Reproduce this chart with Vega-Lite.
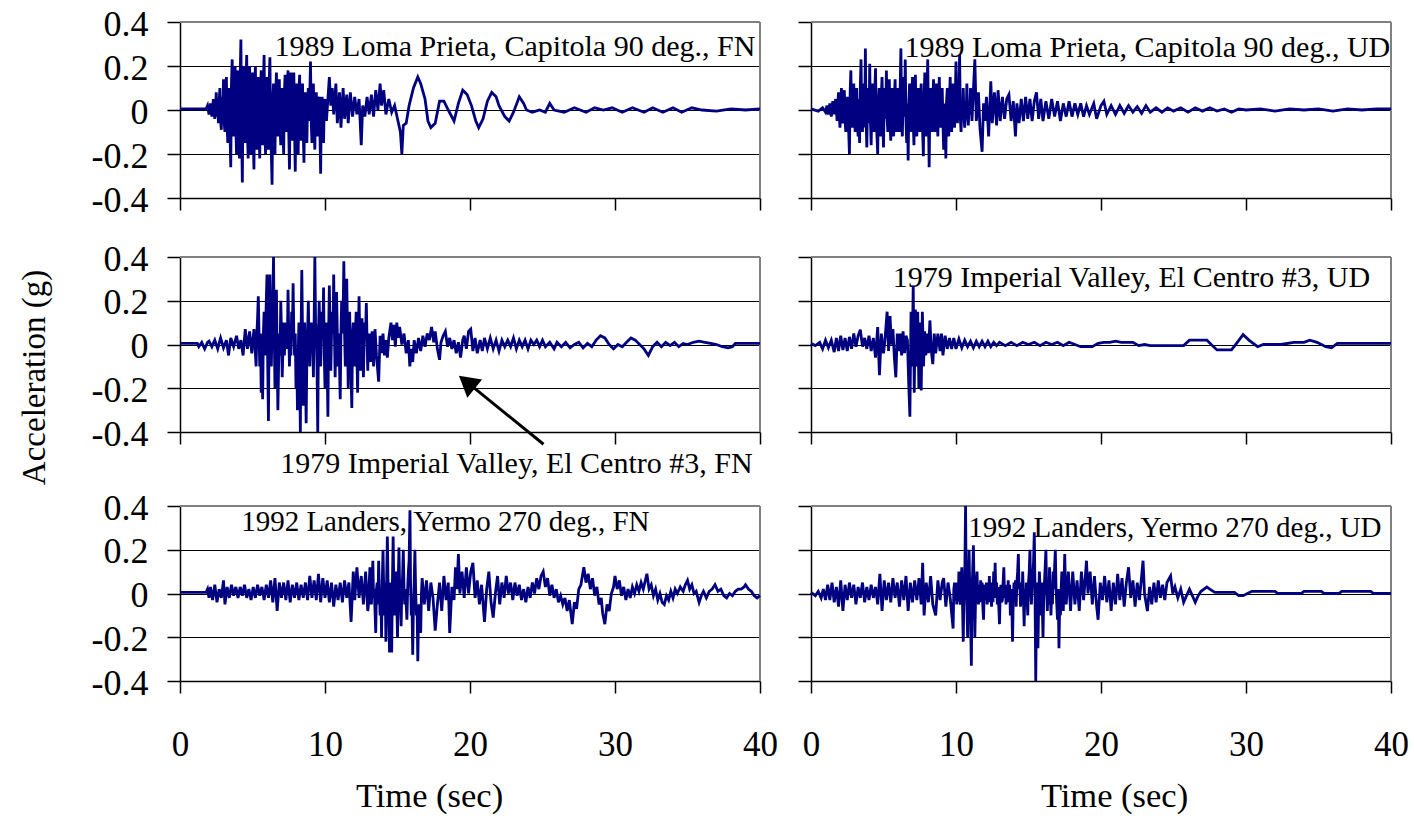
{
"$schema": "https://vega.github.io/schema/vega-lite/v6.json",
"autosize": "none",
"padding": {"left": 180, "top": 22, "right": 1234, "bottom": 796},
"config": {
  "view": {"stroke": null},
  "font": "Liberation Serif",
  "style": {"guide-label": {"font": "Liberation Serif"}, "guide-title": {"font": "Liberation Serif"}},
  "axis": {"labelFont": "Liberation Serif", "titleFont": "Liberation Serif", "domainColor": "black", "tickColor": "black", "labelColor": "black", "titleColor": "black", "domainWidth": 1.5, "tickWidth": 1.5, "titleFontWeight": "normal", "labelOverlap": false, "labelFlush": false, "gridColor": "black", "gridWidth": 1}
},
"datasets": {
"lpfn": [{"t":0,"a":0.005},{"t":1.8,"a":0.005},{"t":1.9,"a":0.02},{"t":2.0,"a":-0.02},{"t":2.1,"a":0.03},{"t":2.2,"a":-0.03},{"t":2.3,"a":0.05},{"t":2.4,"a":-0.04},
{"t":2.5,"a":0.08},{"t":2.55,"a":-0.03},{"t":2.6,"a":0.05},{"t":2.65,"a":-0.06},{"t":2.7,"a":0.04},{"t":2.75,"a":0.1},{"t":2.8,"a":-0.05},{"t":2.85,"a":-0.09},{"t":2.9,"a":0.06},{"t":2.95,"a":-0.04},{"t":3.0,"a":0.14},{"t":3.05,"a":-0.06},{"t":3.1,"a":-0.1},{"t":3.15,"a":0.08},{"t":3.2,"a":0.15},{"t":3.25,"a":-0.08},{"t":3.3,"a":-0.15},{"t":3.35,"a":0.05},{"t":3.4,"a":0.1},{"t":3.45,"a":-0.1},{"t":3.5,"a":-0.26},{"t":3.55,"a":0.12},{"t":3.6,"a":0.23},{"t":3.65,"a":-0.05},{"t":3.7,"a":-0.12},{"t":3.75,"a":0.1},{"t":3.8,"a":0.2},{"t":3.85,"a":-0.08},{"t":3.9,"a":-0.2},{"t":3.95,"a":0.1},{"t":4.0,"a":0.18},{"t":4.05,"a":-0.1},{"t":4.1,"a":-0.22},{"t":4.15,"a":0.15},{"t":4.2,"a":0.32},{"t":4.25,"a":-0.1},{"t":4.3,"a":-0.33},{"t":4.35,"a":0.1},{"t":4.4,"a":0.2},{"t":4.45,"a":-0.08},{"t":4.5,"a":-0.15},{"t":4.55,"a":0.12},{"t":4.6,"a":0.25},{"t":4.65,"a":-0.1},{"t":4.7,"a":-0.22},{"t":4.75,"a":0.1},{"t":4.8,"a":0.2},{"t":4.85,"a":-0.1},{"t":4.9,"a":-0.2},{"t":4.95,"a":0.08},{"t":5.0,"a":0.17},{"t":5.05,"a":-0.12},{"t":5.1,"a":-0.27},{"t":5.15,"a":0.1},{"t":5.2,"a":0.2},{"t":5.25,"a":-0.08},{"t":5.3,"a":-0.18},{"t":5.35,"a":0.1},{"t":5.4,"a":0.15},{"t":5.45,"a":-0.1},{"t":5.5,"a":-0.22},{"t":5.55,"a":0.08},{"t":5.6,"a":0.18},{"t":5.65,"a":-0.1},{"t":5.7,"a":-0.16},{"t":5.75,"a":0.12},{"t":5.8,"a":0.25},{"t":5.85,"a":-0.1},{"t":5.9,"a":-0.2},{"t":5.95,"a":0.08},{"t":6.0,"a":0.15},{"t":6.05,"a":-0.08},{"t":6.1,"a":-0.18},{"t":6.15,"a":0.12},{"t":6.2,"a":0.24},{"t":6.25,"a":-0.1},{"t":6.3,"a":-0.2},{"t":6.35,"a":-0.34},{"t":6.4,"a":0.05},{"t":6.45,"a":0.12},{"t":6.5,"a":-0.08},{"t":6.55,"a":-0.2},{"t":6.6,"a":0.06},{"t":6.65,"a":0.17},{"t":6.7,"a":-0.06},{"t":6.75,"a":-0.12},{"t":6.8,"a":0.06},{"t":6.85,"a":0.14},{"t":6.9,"a":-0.08},{"t":6.95,"a":-0.16},{"t":7.0,"a":0.05},{"t":7.05,"a":0.1},{"t":7.1,"a":-0.1},{"t":7.15,"a":-0.2},{"t":7.2,"a":0.08},{"t":7.25,"a":0.16},{"t":7.3,"a":-0.05},{"t":7.35,"a":-0.1},{"t":7.4,"a":0.1},{"t":7.45,"a":0.18},{"t":7.5,"a":-0.1},{"t":7.55,"a":-0.27},{"t":7.6,"a":0.08},{"t":7.65,"a":0.17},{"t":7.7,"a":-0.06},{"t":7.75,"a":-0.14},{"t":7.8,"a":0.08},{"t":7.85,"a":0.17},{"t":7.9,"a":-0.1},{"t":7.95,"a":-0.28},{"t":8.0,"a":0.05},{"t":8.05,"a":0.12},{"t":8.1,"a":-0.08},{"t":8.15,"a":-0.2},{"t":8.2,"a":0.08},{"t":8.25,"a":0.16},{"t":8.3,"a":-0.06},{"t":8.35,"a":-0.14},{"t":8.4,"a":0.05},{"t":8.45,"a":0.12},{"t":8.5,"a":-0.1},{"t":8.55,"a":-0.24},{"t":8.6,"a":0.03},{"t":8.65,"a":0.08},{"t":8.7,"a":-0.06},{"t":8.75,"a":-0.15},{"t":8.8,"a":0.04},{"t":8.85,"a":0.1},{"t":8.9,"a":-0.05},{"t":8.95,"a":0.06},{"t":9.0,"a":0.22},{"t":9.05,"a":-0.05},{"t":9.1,"a":-0.15},{"t":9.15,"a":0.05},{"t":9.2,"a":0.12},{"t":9.25,"a":-0.08},{"t":9.3,"a":-0.18},{"t":9.35,"a":0.03},{"t":9.4,"a":0.08},{"t":9.45,"a":-0.05},{"t":9.5,"a":-0.12},{"t":9.55,"a":0.04},{"t":9.6,"a":0.06},{"t":9.65,"a":-0.1},{"t":9.7,"a":-0.29},{"t":9.75,"a":0.02},{"t":9.8,"a":0.06},{"t":9.85,"a":-0.05},{"t":9.9,"a":-0.15},{"t":9.95,"a":0.02},{"t":10.0,"a":0.05},
{"t":10.1,"a":-0.05},{"t":10.3,"a":0.15},{"t":10.4,"a":0.02},{"t":10.5,"a":0.1},{"t":10.6,"a":-0.02},{"t":10.75,"a":0.12},{"t":10.85,"a":-0.06},{"t":11.0,"a":0.08},{"t":11.1,"a":-0.08},{"t":11.25,"a":0.1},{"t":11.35,"a":-0.04},{"t":11.5,"a":0.07},{"t":11.6,"a":-0.06},{"t":11.75,"a":0.08},{"t":11.9,"a":-0.03},{"t":12.05,"a":0.06},{"t":12.2,"a":-0.02},{"t":12.35,"a":0.05},{"t":12.5,"a":-0.16},{"t":12.6,"a":0.02},{"t":12.75,"a":-0.03},{"t":12.9,"a":0.06},{"t":13.05,"a":-0.02},{"t":13.2,"a":0.07},{"t":13.35,"a":-0.03},{"t":13.5,"a":0.09},{"t":13.65,"a":0.0},{"t":13.8,"a":0.12},{"t":13.9,"a":0.02},{"t":14.05,"a":0.09},{"t":14.2,"a":-0.02},{"t":14.4,"a":0.05},{"t":14.6,"a":-0.01},{"t":14.8,"a":0.02},{"t":15.0,"a":-0.04},{"t":15.2,"a":-0.1},{"t":15.3,"a":-0.2},{"t":15.4,"a":-0.07},{"t":15.6,"a":-0.06},{"t":15.8,"a":0.02},{"t":16.1,"a":0.1},{"t":16.4,"a":0.15},{"t":16.6,"a":0.12},{"t":16.9,"a":0.05},{"t":17.1,"a":-0.05},{"t":17.3,"a":-0.08},{"t":17.6,"a":-0.06},{"t":17.9,"a":0.04},{"t":18.2,"a":0.04},{"t":18.5,"a":0.0},{"t":18.9,"a":-0.05},{"t":19.2,"a":0.03},{"t":19.5,"a":0.09},{"t":19.8,"a":0.07},{"t":20.1,"a":0.02},{"t":20.4,"a":-0.05},{"t":20.6,"a":-0.08},{"t":20.9,"a":-0.04},{"t":21.2,"a":0.04},{"t":21.5,"a":0.08},{"t":21.8,"a":0.06},{"t":22.0,"a":0.02},{"t":22.4,"a":-0.03},{"t":22.7,"a":-0.05},{"t":23.0,"a":-0.01},{"t":23.4,"a":0.06},{"t":23.7,"a":0.03},{"t":23.9,"a":0.0},{"t":24.3,"a":-0.01},{"t":24.8,"a":0.0},{"t":25.2,"a":-0.01},{"t":25.5,"a":0.03},{"t":25.8,"a":0.0},{"t":26.5,"a":-0.01},{"t":27.2,"a":0.01},{"t":28.0,"a":-0.01},{"t":28.6,"a":0.01},{"t":29.2,"a":0.0},{"t":29.8,"a":0.01},{"t":30.5,"a":-0.01},{"t":31.2,"a":0.01},{"t":32.0,"a":-0.01},{"t":32.6,"a":0.01},{"t":33.3,"a":-0.01},{"t":34.0,"a":0.01},{"t":34.6,"a":-0.01},{"t":35.3,"a":0.01},{"t":36.0,"a":0.0},{"t":37.0,"a":-0.005},{"t":38.0,"a":0.005},{"t":39.0,"a":0.0},{"t":40,"a":0.005}],
"lpud": [{"t":0,"a":0.005},{"t":0.5,"a":-0.005},{"t":0.8,"a":0.01},{"t":1.0,"a":-0.01},{"t":1.1,"a":0.02},{"t":1.2,"a":-0.02},{"t":1.3,"a":0.03},{"t":1.4,"a":-0.03},{"t":1.5,"a":0.04},{"t":1.6,"a":-0.02},{"t":1.7,"a":0.05},
{"t":1.8,"a":-0.05},{"t":1.85,"a":0.03},{"t":1.9,"a":0.08},{"t":1.95,"a":-0.03},{"t":2.0,"a":-0.08},{"t":2.05,"a":0.04},{"t":2.1,"a":0.1},{"t":2.15,"a":-0.04},{"t":2.2,"a":-0.06},{"t":2.25,"a":0.05},{"t":2.3,"a":0.09},{"t":2.35,"a":-0.05},{"t":2.4,"a":-0.1},{"t":2.45,"a":0.03},{"t":2.5,"a":0.06},{"t":2.55,"a":-0.05},{"t":2.6,"a":-0.1},{"t":2.65,"a":-0.2},{"t":2.7,"a":0.08},{"t":2.75,"a":0.18},{"t":2.8,"a":-0.04},{"t":2.85,"a":-0.08},{"t":2.9,"a":0.05},{"t":2.95,"a":0.12},{"t":3.0,"a":-0.05},{"t":3.05,"a":-0.1},{"t":3.1,"a":0.04},{"t":3.15,"a":0.1},{"t":3.2,"a":-0.06},{"t":3.25,"a":-0.12},{"t":3.3,"a":0.05},{"t":3.35,"a":-0.15},{"t":3.4,"a":0.1},{"t":3.45,"a":0.23},{"t":3.5,"a":-0.05},{"t":3.55,"a":-0.1},{"t":3.6,"a":0.05},{"t":3.65,"a":0.12},{"t":3.7,"a":-0.08},{"t":3.75,"a":0.28},{"t":3.8,"a":-0.05},{"t":3.85,"a":-0.17},{"t":3.9,"a":0.04},{"t":3.95,"a":0.1},{"t":4.0,"a":-0.06},{"t":4.05,"a":0.21},{"t":4.1,"a":-0.05},{"t":4.15,"a":-0.16},{"t":4.2,"a":0.05},{"t":4.25,"a":0.12},{"t":4.3,"a":-0.04},{"t":4.35,"a":-0.1},{"t":4.4,"a":0.08},{"t":4.45,"a":0.19},{"t":4.5,"a":-0.05},{"t":4.55,"a":-0.12},{"t":4.6,"a":-0.2},{"t":4.65,"a":0.04},{"t":4.7,"a":0.1},{"t":4.75,"a":-0.05},{"t":4.8,"a":-0.12},{"t":4.85,"a":0.06},{"t":4.9,"a":0.15},{"t":4.95,"a":-0.06},{"t":5.0,"a":-0.17},{"t":5.05,"a":0.04},{"t":5.1,"a":0.1},{"t":5.15,"a":-0.04},{"t":5.2,"a":0.18},{"t":5.25,"a":-0.04},{"t":5.3,"a":-0.1},{"t":5.35,"a":0.05},{"t":5.4,"a":0.14},{"t":5.45,"a":-0.05},{"t":5.5,"a":-0.14},{"t":5.55,"a":0.04},{"t":5.6,"a":0.1},{"t":5.65,"a":-0.04},{"t":5.7,"a":-0.12},{"t":5.75,"a":0.05},{"t":5.8,"a":0.14},{"t":5.85,"a":-0.04},{"t":5.9,"a":-0.1},{"t":5.95,"a":0.04},{"t":6.0,"a":0.1},{"t":6.05,"a":-0.04},{"t":6.1,"a":-0.1},{"t":6.15,"a":0.1},{"t":6.2,"a":0.28},{"t":6.25,"a":-0.05},{"t":6.3,"a":-0.12},{"t":6.35,"a":0.05},{"t":6.4,"a":0.15},{"t":6.45,"a":-0.03},{"t":6.5,"a":0.23},{"t":6.55,"a":-0.05},{"t":6.6,"a":-0.15},{"t":6.65,"a":0.03},{"t":6.7,"a":-0.23},{"t":6.75,"a":0.04},{"t":6.8,"a":0.12},{"t":6.85,"a":-0.04},{"t":6.9,"a":-0.1},{"t":6.95,"a":0.05},{"t":7.0,"a":0.15},{"t":7.05,"a":-0.05},{"t":7.1,"a":-0.16},{"t":7.15,"a":0.05},{"t":7.2,"a":0.16},{"t":7.25,"a":-0.04},{"t":7.3,"a":-0.12},{"t":7.35,"a":0.04},{"t":7.4,"a":0.1},{"t":7.45,"a":-0.04},{"t":7.5,"a":-0.1},{"t":7.55,"a":0.05},{"t":7.6,"a":0.12},{"t":7.65,"a":-0.05},{"t":7.7,"a":-0.1},{"t":7.75,"a":-0.21},{"t":7.8,"a":0.06},{"t":7.85,"a":0.17},{"t":7.9,"a":-0.04},{"t":7.95,"a":-0.12},{"t":8.0,"a":0.06},{"t":8.05,"a":0.23},{"t":8.1,"a":-0.05},{"t":8.15,"a":-0.26},{"t":8.2,"a":0.04},{"t":8.25,"a":0.1},{"t":8.3,"a":-0.04},{"t":8.35,"a":-0.1},{"t":8.4,"a":0.05},{"t":8.45,"a":0.14},{"t":8.5,"a":-0.04},{"t":8.55,"a":-0.1},{"t":8.6,"a":0.04},{"t":8.65,"a":0.12},{"t":8.7,"a":-0.04},{"t":8.75,"a":-0.12},{"t":8.8,"a":0.05},{"t":8.85,"a":0.15},{"t":8.9,"a":-0.03},{"t":8.95,"a":-0.08},{"t":9.0,"a":0.04},{"t":9.05,"a":0.1},{"t":9.1,"a":-0.06},{"t":9.15,"a":-0.18},{"t":9.2,"a":0.03},{"t":9.25,"a":-0.05},{"t":9.3,"a":-0.22},{"t":9.35,"a":0.04},{"t":9.4,"a":0.1},{"t":9.45,"a":-0.04},{"t":9.5,"a":-0.12},{"t":9.55,"a":0.05},{"t":9.6,"a":0.15},{"t":9.65,"a":-0.04},{"t":9.7,"a":-0.1},{"t":9.75,"a":0.04},{"t":9.8,"a":0.12},{"t":9.85,"a":-0.03},{"t":9.9,"a":-0.08},{"t":9.95,"a":0.06},{"t":10.0,"a":0.22},{"t":10.05,"a":-0.03},{"t":10.1,"a":-0.06},{"t":10.15,"a":0.05},{"t":10.2,"a":0.1},{"t":10.25,"a":0.25},{"t":10.3,"a":-0.04},{"t":10.35,"a":-0.1},{"t":10.4,"a":0.04},{"t":10.45,"a":-0.03},{"t":10.5,"a":0.1},{"t":10.55,"a":-0.03},{"t":10.6,"a":-0.08},{"t":10.65,"a":0.04},{"t":10.7,"a":-0.03},{"t":10.75,"a":0.12},{"t":10.8,"a":-0.03},{"t":10.85,"a":-0.07},{"t":10.9,"a":0.03},{"t":10.95,"a":-0.02},{"t":11.0,"a":0.1},
{"t":11.1,"a":-0.05},{"t":11.3,"a":0.23},{"t":11.4,"a":-0.05},{"t":11.55,"a":0.08},{"t":11.65,"a":-0.08},{"t":11.8,"a":-0.19},{"t":11.9,"a":0.03},{"t":12.0,"a":-0.05},{"t":12.1,"a":0.06},{"t":12.25,"a":-0.12},{"t":12.4,"a":0.13},{"t":12.5,"a":-0.06},{"t":12.65,"a":0.08},{"t":12.8,"a":-0.07},{"t":12.9,"a":0.09},{"t":13.05,"a":-0.05},{"t":13.2,"a":0.06},{"t":13.35,"a":-0.04},{"t":13.5,"a":0.05},{"t":13.65,"a":0.07},{"t":13.8,"a":-0.05},{"t":13.95,"a":0.04},{"t":14.1,"a":-0.12},{"t":14.2,"a":0.03},{"t":14.35,"a":-0.06},{"t":14.5,"a":0.05},{"t":14.65,"a":-0.05},{"t":14.8,"a":0.06},{"t":14.95,"a":-0.04},{"t":15.1,"a":0.05},{"t":15.25,"a":-0.05},{"t":15.4,"a":0.04},{"t":15.55,"a":0.08},{"t":15.7,"a":-0.04},{"t":15.85,"a":0.05},{"t":16.0,"a":-0.05},{"t":16.2,"a":0.04},{"t":16.4,"a":-0.04},{"t":16.6,"a":0.05},{"t":16.8,"a":-0.03},{"t":17.0,"a":0.04},{"t":17.2,"a":-0.05},{"t":17.4,"a":0.03},{"t":17.6,"a":-0.03},{"t":17.8,"a":0.04},{"t":18.0,"a":-0.03},{"t":18.2,"a":0.03},{"t":18.4,"a":-0.02},{"t":18.6,"a":0.03},{"t":18.8,"a":-0.03},{"t":19.0,"a":0.02},{"t":19.2,"a":-0.02},{"t":19.5,"a":0.03},{"t":19.7,"a":-0.04},{"t":20.0,"a":0.02},{"t":20.2,"a":0.04},{"t":20.4,"a":-0.02},{"t":20.7,"a":0.02},{"t":21.0,"a":-0.02},{"t":21.3,"a":0.02},{"t":21.6,"a":-0.015},{"t":21.9,"a":0.02},{"t":22.2,"a":-0.01},{"t":22.5,"a":0.015},{"t":22.8,"a":-0.015},{"t":23.1,"a":0.02},{"t":23.4,"a":-0.01},{"t":23.8,"a":0.01},{"t":24.2,"a":-0.01},{"t":24.6,"a":0.01},{"t":25.0,"a":-0.005},{"t":25.5,"a":0.01},{"t":26.0,"a":-0.01},{"t":26.5,"a":0.01},{"t":27.0,"a":-0.005},{"t":27.5,"a":0.01},{"t":28.0,"a":-0.005},{"t":28.5,"a":0.005},{"t":29.0,"a":-0.01},{"t":29.5,"a":0.005},{"t":30.0,"a":0.0},{"t":31.0,"a":0.005},{"t":32.0,"a":-0.005},{"t":33.0,"a":0.005},{"t":34.0,"a":0.0},{"t":35.0,"a":0.005},{"t":36.0,"a":-0.005},{"t":37.0,"a":0.005},{"t":38.0,"a":0.0},{"t":39.0,"a":0.005},{"t":40.0,"a":0.005}],
"ivfn": [{"t":0,"a":0.005},{"t":1.2,"a":0.005},{"t":1.3,"a":-0.01},{"t":1.5,"a":0.01},{"t":1.7,"a":-0.02},{"t":1.9,"a":0.01},{"t":2.0,"a":0.015},{"t":2.2,"a":-0.01},{"t":2.4,"a":0.02},{"t":2.6,"a":-0.02},{"t":2.8,"a":0.03},{"t":3.0,"a":-0.015},{"t":3.2,"a":0.02},{"t":3.35,"a":-0.05},{"t":3.5,"a":0.03},{"t":3.7,"a":-0.01},{"t":3.9,"a":0.04},{"t":4.05,"a":-0.02},{"t":4.2,"a":0.02},{"t":4.35,"a":-0.05},{"t":4.5,"a":0.07},{"t":4.65,"a":-0.02},{"t":4.8,"a":0.06},{"t":4.95,"a":-0.04},{"t":5.1,"a":0.07},
{"t":5.25,"a":-0.1},{"t":5.3,"a":0.05},{"t":5.35,"a":0.12},{"t":5.4,"a":0.22},{"t":5.45,"a":0.05},{"t":5.5,"a":-0.1},{"t":5.55,"a":0.05},{"t":5.6,"a":-0.22},{"t":5.65,"a":-0.05},{"t":5.7,"a":-0.25},{"t":5.75,"a":0.05},{"t":5.8,"a":0.15},{"t":5.85,"a":-0.05},{"t":5.9,"a":0.05},{"t":5.95,"a":0.2},{"t":6.0,"a":0.32},{"t":6.05,"a":-0.1},{"t":6.1,"a":-0.35},{"t":6.15,"a":0.1},{"t":6.2,"a":0.32},{"t":6.25,"a":0.05},{"t":6.3,"a":-0.1},{"t":6.35,"a":0.1},{"t":6.4,"a":0.2},{"t":6.45,"a":0.4},{"t":6.5,"a":0.05},{"t":6.55,"a":-0.2},{"t":6.6,"a":0.05},{"t":6.65,"a":0.25},{"t":6.7,"a":-0.05},{"t":6.75,"a":-0.3},{"t":6.8,"a":-0.1},{"t":6.85,"a":0.05},{"t":6.9,"a":-0.05},{"t":6.95,"a":0.2},{"t":7.0,"a":0.05},{"t":7.05,"a":-0.15},{"t":7.1,"a":-0.02},{"t":7.15,"a":0.1},{"t":7.2,"a":-0.05},{"t":7.25,"a":0.05},{"t":7.3,"a":0.02},{"t":7.35,"a":0.1},{"t":7.4,"a":-0.02},{"t":7.45,"a":0.25},{"t":7.5,"a":0.05},{"t":7.55,"a":-0.1},{"t":7.6,"a":0.05},{"t":7.65,"a":-0.05},{"t":7.7,"a":0.15},{"t":7.75,"a":0.05},{"t":7.8,"a":0.28},{"t":7.85,"a":0.05},{"t":7.9,"a":-0.05},{"t":7.95,"a":0.05},{"t":8.0,"a":-0.2},{"t":8.05,"a":-0.05},{"t":8.1,"a":-0.3},{"t":8.15,"a":-0.05},{"t":8.2,"a":0.1},{"t":8.25,"a":-0.1},{"t":8.3,"a":-0.4},{"t":8.35,"a":0.05},{"t":8.4,"a":0.34},{"t":8.45,"a":0.05},{"t":8.5,"a":-0.28},{"t":8.55,"a":-0.05},{"t":8.6,"a":0.1},{"t":8.65,"a":-0.1},{"t":8.7,"a":-0.36},{"t":8.75,"a":-0.05},{"t":8.8,"a":0.05},{"t":8.85,"a":0.2},{"t":8.9,"a":0.02},{"t":8.95,"a":-0.1},{"t":9.0,"a":0.02},{"t":9.05,"a":0.1},{"t":9.1,"a":-0.03},{"t":9.15,"a":0.05},{"t":9.2,"a":-0.15},{"t":9.25,"a":0.1},{"t":9.3,"a":0.4},{"t":9.35,"a":0.1},{"t":9.4,"a":0.05},{"t":9.45,"a":-0.1},{"t":9.5,"a":-0.4},{"t":9.55,"a":0.05},{"t":9.6,"a":0.2},{"t":9.65,"a":0.05},{"t":9.7,"a":-0.1},{"t":9.75,"a":0.05},{"t":9.8,"a":0.15},{"t":9.85,"a":0.05},{"t":9.9,"a":0.26},{"t":9.95,"a":-0.05},{"t":10.0,"a":-0.2},{"t":10.05,"a":0.05},{"t":10.1,"a":0.1},{"t":10.15,"a":-0.1},{"t":10.2,"a":-0.33},{"t":10.25,"a":0.05},{"t":10.3,"a":0.27},{"t":10.35,"a":0.05},{"t":10.4,"a":-0.12},{"t":10.45,"a":0.05},{"t":10.5,"a":0.15},{"t":10.55,"a":0.05},{"t":10.6,"a":0.32},{"t":10.65,"a":0.05},{"t":10.7,"a":-0.15},{"t":10.75,"a":0.05},{"t":10.8,"a":0.24},{"t":10.85,"a":0.05},{"t":10.9,"a":-0.1},{"t":10.95,"a":0.05},{"t":11.0,"a":-0.1},{"t":11.05,"a":-0.25},{"t":11.1,"a":0.05},{"t":11.15,"a":0.2},{"t":11.2,"a":0.05},{"t":11.25,"a":0.15},{"t":11.3,"a":0.38},{"t":11.35,"a":0.05},{"t":11.4,"a":-0.1},{"t":11.45,"a":0.1},{"t":11.5,"a":0.3},{"t":11.55,"a":0.05},{"t":11.6,"a":-0.2},{"t":11.65,"a":0.05},{"t":11.7,"a":0.15},{"t":11.75,"a":-0.05},{"t":11.8,"a":-0.15},{"t":11.85,"a":-0.29},{"t":11.9,"a":0.05},{"t":11.95,"a":0.1},{"t":12.0,"a":-0.05},{"t":12.05,"a":-0.1},{"t":12.1,"a":0.05},{"t":12.15,"a":0.15},{"t":12.2,"a":-0.05},{"t":12.25,"a":-0.22},{"t":12.3,"a":0.05},{"t":12.35,"a":0.22},{"t":12.4,"a":0.02},{"t":12.45,"a":-0.12},{"t":12.5,"a":0.02},{"t":12.55,"a":0.12},{"t":12.6,"a":-0.02},{"t":12.65,"a":-0.15},{"t":12.7,"a":0.02},{"t":12.75,"a":0.1},{"t":12.8,"a":0.05},{"t":12.85,"a":0.19},{"t":12.9,"a":0.02},{"t":12.95,"a":-0.12},{"t":13.0,"a":0.02},
{"t":13.05,"a":0.05},{"t":13.15,"a":-0.08},{"t":13.25,"a":0.06},{"t":13.35,"a":-0.1},{"t":13.45,"a":0.07},{"t":13.55,"a":-0.05},{"t":13.7,"a":-0.17},{"t":13.8,"a":0.04},{"t":13.9,"a":-0.04},{"t":14.0,"a":0.05},{"t":14.1,"a":-0.05},{"t":14.2,"a":0.02},{"t":14.3,"a":-0.06},{"t":14.4,"a":0.03},{"t":14.55,"a":0.1},{"t":14.65,"a":0.02},{"t":14.75,"a":0.09},{"t":14.85,"a":-0.01},{"t":14.95,"a":0.1},{"t":15.05,"a":0.03},{"t":15.15,"a":0.08},{"t":15.3,"a":0.0},{"t":15.45,"a":0.05},{"t":15.6,"a":-0.04},{"t":15.75,"a":0.02},{"t":15.85,"a":-0.1},{"t":15.95,"a":-0.02},{"t":16.05,"a":-0.08},{"t":16.15,"a":0.02},{"t":16.3,"a":-0.04},{"t":16.45,"a":0.03},{"t":16.6,"a":-0.03},{"t":16.75,"a":0.04},{"t":16.9,"a":-0.01},{"t":17.05,"a":0.05},{"t":17.2,"a":0.02},{"t":17.35,"a":0.08},{"t":17.5,"a":0.01},{"t":17.6,"a":0.06},{"t":17.75,"a":-0.02},{"t":17.9,"a":-0.07},{"t":18.0,"a":0.01},{"t":18.15,"a":0.04},{"t":18.3,"a":0.06},{"t":18.45,"a":-0.01},{"t":18.6,"a":0.03},{"t":18.75,"a":-0.02},{"t":18.9,"a":0.02},{"t":19.05,"a":-0.04},{"t":19.2,"a":0.01},{"t":19.35,"a":-0.06},{"t":19.5,"a":0.02},{"t":19.6,"a":0.04},{"t":19.75,"a":-0.02},{"t":19.9,"a":0.06},{"t":20.05,"a":0.07},{"t":20.2,"a":-0.03},{"t":20.35,"a":0.03},{"t":20.5,"a":-0.04},{"t":20.7,"a":0.02},{"t":20.85,"a":-0.03},{"t":21.0,"a":0.03},{"t":21.2,"a":-0.02},{"t":21.4,"a":0.03},{"t":21.6,"a":-0.02},{"t":21.8,"a":0.02},{"t":22.0,"a":-0.03},{"t":22.2,"a":0.02},{"t":22.4,"a":-0.01},{"t":22.6,"a":0.02},{"t":22.8,"a":-0.01},{"t":23.0,"a":0.03},{"t":23.2,"a":-0.02},{"t":23.4,"a":0.02},{"t":23.6,"a":-0.01},{"t":23.8,"a":0.02},{"t":24.0,"a":-0.02},{"t":24.2,"a":0.02},{"t":24.4,"a":0.0},{"t":24.6,"a":0.02},{"t":24.8,"a":-0.01},{"t":25.0,"a":0.02},{"t":25.2,"a":-0.01},{"t":25.5,"a":0.01},{"t":25.8,"a":-0.02},{"t":26.0,"a":0.01},{"t":26.3,"a":-0.01},{"t":26.6,"a":0.01},{"t":26.9,"a":-0.015},{"t":27.2,"a":0.0},{"t":27.5,"a":0.01},{"t":27.8,"a":-0.015},{"t":28.1,"a":0.005},{"t":28.4,"a":-0.01},{"t":28.7,"a":0.02},{"t":29.0,"a":0.04},{"t":29.3,"a":0.03},{"t":29.6,"a":0.0},{"t":29.9,"a":-0.02},{"t":30.2,"a":0.0},{"t":30.5,"a":-0.01},{"t":30.8,"a":0.01},{"t":31.1,"a":0.03},{"t":31.4,"a":0.02},{"t":31.7,"a":0.0},{"t":32.0,"a":-0.02},{"t":32.3,"a":-0.05},{"t":32.6,"a":-0.01},{"t":32.9,"a":0.01},{"t":33.2,"a":-0.01},{"t":33.5,"a":0.01},{"t":33.8,"a":-0.005},{"t":34.1,"a":0.01},{"t":34.4,"a":-0.01},{"t":34.7,"a":0.005},{"t":35.0,"a":0.0},{"t":35.4,"a":0.01},{"t":35.8,"a":0.015},{"t":36.2,"a":0.01},{"t":36.6,"a":0.005},{"t":37.0,"a":0.0},{"t":37.4,"a":-0.01},{"t":37.8,"a":-0.015},{"t":38.1,"a":-0.01},{"t":38.3,"a":0.005},{"t":40,"a":0.005}],
"ivud": [{"t":0,"a":0.005},{"t":0.3,"a":-0.005},{"t":0.6,"a":0.01},{"t":0.8,"a":-0.02},{"t":1.0,"a":0.02},{"t":1.2,"a":-0.015},{"t":1.4,"a":0.02},{"t":1.6,"a":-0.035},{"t":1.75,"a":0.03},{"t":1.9,"a":-0.03},{"t":2.05,"a":0.04},{"t":2.2,"a":-0.025},{"t":2.35,"a":0.03},{"t":2.5,"a":-0.03},{"t":2.65,"a":0.035},{"t":2.8,"a":-0.02},{"t":2.95,"a":0.05},{"t":3.1,"a":-0.01},{"t":3.25,"a":0.04},{"t":3.4,"a":0.068},{"t":3.55,"a":-0.01},{"t":3.7,"a":0.03},{"t":3.85,"a":-0.02},{"t":4.0,"a":0.04},{"t":4.15,"a":-0.03},{"t":4.3,"a":0.03},{"t":4.45,"a":-0.06},{"t":4.6,"a":0.08},{"t":4.72,"a":-0.14},{"t":4.85,"a":0.05},{"t":5.0,"a":-0.04},{"t":5.1,"a":0.02},{"t":5.25,"a":0.15},{"t":5.35,"a":-0.03},{"t":5.45,"a":0.13},{"t":5.55,"a":0.0},{"t":5.65,"a":0.07},{"t":5.75,"a":-0.06},{"t":5.85,"a":-0.15},{"t":5.95,"a":0.05},{"t":6.05,"a":-0.03},{"t":6.15,"a":0.05},{"t":6.25,"a":-0.05},{"t":6.35,"a":0.06},{"t":6.45,"a":-0.04},{"t":6.55,"a":0.04},{"t":6.65,"a":0.02},{"t":6.75,"a":-0.2},{"t":6.82,"a":-0.33},{"t":6.9,"a":0.15},{"t":6.97,"a":-0.1},{"t":7.05,"a":0.27},{"t":7.12,"a":-0.22},{"t":7.2,"a":0.16},{"t":7.28,"a":-0.1},{"t":7.36,"a":0.15},{"t":7.44,"a":-0.2},{"t":7.52,"a":0.1},{"t":7.6,"a":-0.21},{"t":7.68,"a":0.15},{"t":7.76,"a":-0.1},{"t":7.84,"a":0.06},{"t":7.92,"a":-0.05},{"t":8.0,"a":0.05},{"t":8.1,"a":-0.04},{"t":8.2,"a":0.11},{"t":8.3,"a":-0.03},{"t":8.4,"a":-0.09},{"t":8.5,"a":0.05},{"t":8.6,"a":-0.04},{"t":8.75,"a":0.05},{"t":8.9,"a":-0.03},{"t":9.0,"a":0.05},{"t":9.1,"a":-0.05},{"t":9.25,"a":0.04},{"t":9.4,"a":-0.02},{"t":9.55,"a":0.03},{"t":9.7,"a":-0.02},{"t":9.85,"a":0.03},{"t":10.0,"a":-0.02},{"t":10.2,"a":0.025},{"t":10.4,"a":-0.015},{"t":10.6,"a":0.02},{"t":10.8,"a":-0.01},{"t":11.0,"a":0.015},{"t":11.2,"a":-0.015},{"t":11.4,"a":0.015},{"t":11.6,"a":-0.01},{"t":11.8,"a":0.015},{"t":12.0,"a":-0.01},{"t":12.2,"a":0.015},{"t":12.4,"a":-0.01},{"t":12.6,"a":0.01},{"t":12.8,"a":-0.005},{"t":13.0,"a":0.01},{"t":13.4,"a":-0.005},{"t":13.8,"a":0.01},{"t":14.2,"a":-0.005},{"t":14.6,"a":0.01},{"t":15.0,"a":0.0},{"t":15.4,"a":0.01},{"t":15.8,"a":-0.005},{"t":16.2,"a":0.01},{"t":16.6,"a":0.0},{"t":17.0,"a":0.01},{"t":17.4,"a":-0.005},{"t":17.8,"a":0.01},{"t":18.2,"a":0.0},{"t":18.6,"a":-0.01},{"t":19.0,"a":-0.01},{"t":19.4,"a":-0.01},{"t":19.8,"a":0.005},{"t":20.2,"a":0.01},{"t":20.6,"a":0.01},{"t":21.0,"a":0.015},{"t":21.4,"a":0.01},{"t":21.8,"a":0.01},{"t":22.2,"a":0.01},{"t":22.6,"a":-0.005},{"t":23.0,"a":0.0},{"t":23.4,"a":-0.005},{"t":24.0,"a":-0.005},{"t":25.0,"a":-0.005},{"t":25.7,"a":-0.005},{"t":26.1,"a":0.02},{"t":27.3,"a":0.02},{"t":27.6,"a":0.0},{"t":28.0,"a":-0.025},{"t":29.0,"a":-0.025},{"t":29.4,"a":0.01},{"t":29.8,"a":0.045},{"t":30.2,"a":0.02},{"t":30.8,"a":-0.01},{"t":31.2,"a":0.0},{"t":32.4,"a":0.0},{"t":33.3,"a":0.01},{"t":34.0,"a":0.01},{"t":34.4,"a":0.02},{"t":34.9,"a":0.01},{"t":35.5,"a":-0.01},{"t":35.9,"a":-0.015},{"t":36.3,"a":0.005},{"t":40,"a":0.005}],
"ldfn": [{"t":0,"a":0.005},{"t":1.8,"a":0.005},{"t":1.9,"a":0.02},{"t":2.0,"a":-0.02},{"t":2.1,"a":0.03},{"t":2.25,"a":-0.03},{"t":2.4,"a":0.04},{"t":2.55,"a":-0.04},{"t":2.7,"a":0.02},{"t":2.85,"a":-0.02},{"t":3.0,"a":0.06},{"t":3.1,"a":-0.05},{"t":3.25,"a":0.03},{"t":3.4,"a":-0.02},{"t":3.55,"a":0.04},{"t":3.7,"a":-0.01},{"t":3.85,"a":0.03},{"t":4.0,"a":-0.02},{"t":4.15,"a":0.03},{"t":4.3,"a":-0.01},{"t":4.45,"a":0.04},{"t":4.6,"a":-0.02},{"t":4.75,"a":0.02},{"t":4.9,"a":-0.03},{"t":5.05,"a":0.03},{"t":5.2,"a":-0.02},{"t":5.35,"a":0.04},{"t":5.5,"a":-0.01},{"t":5.65,"a":0.03},{"t":5.8,"a":-0.03},{"t":5.95,"a":0.04},{"t":6.1,"a":-0.02},{"t":6.25,"a":0.06},{"t":6.4,"a":-0.04},{"t":6.55,"a":0.07},{"t":6.7,"a":-0.08},{"t":6.85,"a":0.05},{"t":7.0,"a":-0.02},{"t":7.15,"a":0.05},{"t":7.3,"a":-0.03},{"t":7.45,"a":0.06},{"t":7.6,"a":-0.04},{"t":7.75,"a":0.04},{"t":7.9,"a":-0.02},{"t":8.05,"a":0.05},{"t":8.2,"a":-0.03},{"t":8.35,"a":0.04},{"t":8.5,"a":-0.02},{"t":8.65,"a":0.05},{"t":8.8,"a":-0.03},{"t":8.95,"a":0.08},{"t":9.1,"a":-0.02},{"t":9.25,"a":0.06},{"t":9.4,"a":-0.03},{"t":9.55,"a":0.09},{"t":9.7,"a":-0.04},{"t":9.85,"a":0.07},{"t":10.0,"a":-0.02},{"t":10.15,"a":0.06},{"t":10.3,"a":-0.04},{"t":10.45,"a":0.05},{"t":10.6,"a":-0.06},{"t":10.75,"a":0.04},{"t":10.9,"a":-0.03},{"t":11.05,"a":0.05},{"t":11.2,"a":-0.04},{"t":11.35,"a":0.06},{"t":11.5,"a":-0.02},{"t":11.65,"a":0.05},{"t":11.8,"a":-0.13},{"t":11.95,"a":0.1},{"t":12.05,"a":-0.03},{"t":12.2,"a":0.12},{"t":12.35,"a":-0.02},{"t":12.5,"a":0.08},{"t":12.65,"a":-0.05},{"t":12.8,"a":0.1},{"t":12.95,"a":-0.08},
{"t":13.0,"a":-0.05},{"t":13.05,"a":0.05},{"t":13.1,"a":0.12},{"t":13.15,"a":-0.02},{"t":13.2,"a":-0.05},{"t":13.25,"a":0.05},{"t":13.3,"a":0.15},{"t":13.35,"a":-0.02},{"t":13.4,"a":0.02},{"t":13.45,"a":-0.08},{"t":13.5,"a":-0.18},{"t":13.55,"a":0.02},{"t":13.6,"a":0.05},{"t":13.65,"a":-0.05},{"t":13.7,"a":0.15},{"t":13.75,"a":0.02},{"t":13.8,"a":-0.1},{"t":13.85,"a":0.02},{"t":13.9,"a":-0.2},{"t":13.95,"a":0.05},{"t":14.0,"a":0.2},{"t":14.05,"a":0.02},{"t":14.1,"a":-0.1},{"t":14.15,"a":0.05},{"t":14.2,"a":-0.22},{"t":14.25,"a":0.05},{"t":14.3,"a":0.26},{"t":14.35,"a":0.05},{"t":14.4,"a":-0.1},{"t":14.45,"a":-0.27},{"t":14.5,"a":0.0},{"t":14.55,"a":0.05},{"t":14.6,"a":-0.27},{"t":14.65,"a":0.05},{"t":14.7,"a":0.26},{"t":14.75,"a":0.02},{"t":14.8,"a":-0.1},{"t":14.85,"a":0.02},{"t":14.9,"a":0.1},{"t":14.95,"a":-0.05},{"t":15.0,"a":-0.2},{"t":15.05,"a":0.05},{"t":15.1,"a":0.21},{"t":15.15,"a":0.02},{"t":15.2,"a":-0.05},{"t":15.25,"a":-0.15},{"t":15.3,"a":0.02},{"t":15.35,"a":0.08},{"t":15.4,"a":0.2},{"t":15.45,"a":0.02},{"t":15.5,"a":-0.05},{"t":15.55,"a":0.02},{"t":15.6,"a":-0.05},{"t":15.65,"a":-0.12},{"t":15.7,"a":0.02},{"t":15.75,"a":0.1},{"t":15.8,"a":0.15},{"t":15.86,"a":0.38},{"t":15.9,"a":0.05},{"t":15.95,"a":-0.1},{"t":16.0,"a":-0.05},{"t":16.05,"a":-0.28},{"t":16.1,"a":-0.05},{"t":16.15,"a":0.05},{"t":16.2,"a":0.2},{"t":16.25,"a":0.02},{"t":16.3,"a":-0.1},{"t":16.35,"a":-0.05},{"t":16.4,"a":-0.31},{"t":16.45,"a":-0.1},{"t":16.5,"a":-0.05},{"t":16.55,"a":-0.12},{"t":16.6,"a":-0.18},{"t":16.65,"a":0.0},{"t":16.7,"a":0.07},
{"t":16.85,"a":-0.05},{"t":17.0,"a":0.06},{"t":17.15,"a":-0.08},{"t":17.3,"a":0.05},{"t":17.45,"a":-0.02},{"t":17.6,"a":-0.17},{"t":17.75,"a":-0.05},{"t":17.9,"a":0.05},{"t":18.05,"a":-0.08},{"t":18.2,"a":0.08},{"t":18.35,"a":-0.03},{"t":18.5,"a":0.05},{"t":18.6,"a":-0.18},{"t":18.75,"a":0.03},{"t":18.9,"a":-0.03},{"t":19.0,"a":0.12},{"t":19.1,"a":0.02},{"t":19.2,"a":0.18},{"t":19.3,"a":0.0},{"t":19.45,"a":0.1},{"t":19.6,"a":-0.02},{"t":19.75,"a":0.12},{"t":19.9,"a":0.0},{"t":20.05,"a":0.1},{"t":20.2,"a":0.14},{"t":20.35,"a":-0.02},{"t":20.5,"a":0.06},{"t":20.65,"a":-0.05},{"t":20.8,"a":0.04},{"t":21.0,"a":-0.13},{"t":21.15,"a":0.02},{"t":21.3,"a":0.1},{"t":21.45,"a":-0.04},{"t":21.6,"a":-0.11},{"t":21.75,"a":0.0},{"t":21.9,"a":0.08},{"t":22.05,"a":-0.05},{"t":22.2,"a":0.05},{"t":22.35,"a":-0.02},{"t":22.5,"a":0.08},{"t":22.65,"a":0.0},{"t":22.8,"a":0.05},{"t":22.95,"a":-0.03},{"t":23.1,"a":0.05},{"t":23.25,"a":-0.01},{"t":23.4,"a":0.04},{"t":23.55,"a":-0.03},{"t":23.7,"a":0.02},{"t":23.85,"a":-0.04},{"t":24.0,"a":0.03},{"t":24.15,"a":-0.02},{"t":24.3,"a":0.05},{"t":24.45,"a":0.0},{"t":24.6,"a":0.07},{"t":24.75,"a":0.02},{"t":24.9,"a":0.08},{"t":25.05,"a":0.1},{"t":25.2,"a":0.03},{"t":25.35,"a":0.07},{"t":25.5,"a":-0.01},{"t":25.65,"a":0.04},{"t":25.8,"a":-0.02},{"t":25.95,"a":0.02},{"t":26.1,"a":-0.04},{"t":26.25,"a":-0.01},{"t":26.4,"a":-0.05},{"t":26.55,"a":-0.02},{"t":26.7,"a":-0.08},{"t":26.85,"a":-0.03},{"t":27.05,"a":-0.14},{"t":27.2,"a":-0.04},{"t":27.35,"a":-0.07},{"t":27.5,"a":0.02},{"t":27.65,"a":0.04},{"t":27.85,"a":0.12},{"t":28.0,"a":0.05},{"t":28.15,"a":0.09},{"t":28.3,"a":0.02},{"t":28.45,"a":0.07},{"t":28.6,"a":-0.01},{"t":28.75,"a":0.03},{"t":28.9,"a":-0.05},{"t":29.05,"a":-0.02},{"t":29.15,"a":-0.09},{"t":29.3,"a":-0.14},{"t":29.45,"a":-0.05},{"t":29.6,"a":-0.08},{"t":29.75,"a":0.0},{"t":29.9,"a":0.03},{"t":30.0,"a":0.08},{"t":30.15,"a":0.02},{"t":30.3,"a":0.06},{"t":30.45,"a":-0.01},{"t":30.6,"a":0.03},{"t":30.75,"a":-0.03},{"t":30.9,"a":0.02},{"t":31.05,"a":-0.02},{"t":31.2,"a":0.03},{"t":31.35,"a":0.0},{"t":31.5,"a":0.04},{"t":31.65,"a":0.01},{"t":31.8,"a":0.05},{"t":31.95,"a":0.02},{"t":32.2,"a":0.09},{"t":32.35,"a":0.02},{"t":32.5,"a":0.04},{"t":32.65,"a":-0.01},{"t":32.8,"a":0.02},{"t":32.95,"a":-0.03},{"t":33.1,"a":0.0},{"t":33.25,"a":-0.04},{"t":33.4,"a":-0.05},{"t":33.55,"a":-0.01},{"t":33.7,"a":-0.03},{"t":33.85,"a":0.01},{"t":34.0,"a":-0.02},{"t":34.15,"a":0.02},{"t":34.3,"a":0.0},{"t":34.5,"a":0.03},{"t":34.7,"a":0.01},{"t":34.85,"a":0.04},{"t":35.0,"a":0.06},{"t":35.15,"a":0.02},{"t":35.3,"a":0.04},{"t":35.45,"a":0.0},{"t":35.6,"a":0.01},{"t":35.8,"a":-0.04},{"t":35.95,"a":-0.01},{"t":36.1,"a":0.01},{"t":36.3,"a":-0.02},{"t":36.5,"a":0.01},{"t":36.7,"a":0.02},{"t":36.9,"a":0.04},{"t":37.1,"a":0.01},{"t":37.3,"a":0.02},{"t":37.5,"a":-0.01},{"t":37.7,"a":-0.02},{"t":37.9,"a":0.0},{"t":38.1,"a":-0.01},{"t":38.3,"a":0.01},{"t":38.5,"a":0.02},{"t":38.7,"a":0.02},{"t":38.9,"a":0.03},{"t":39.0,"a":0.04},{"t":39.2,"a":0.02},{"t":39.4,"a":0.01},{"t":39.6,"a":-0.01},{"t":39.8,"a":-0.02},{"t":40,"a":-0.01}],
"ldud": [{"t":0,"a":0.005},{"t":0.3,"a":-0.01},{"t":0.5,"a":0.01},{"t":0.7,"a":-0.02},{"t":0.85,"a":0.02},{"t":1.0,"a":-0.03},{"t":1.15,"a":0.04},{"t":1.3,"a":-0.03},{"t":1.45,"a":0.05},{"t":1.6,"a":-0.04},{"t":1.75,"a":0.03},{"t":1.9,"a":-0.06},{"t":2.05,"a":0.06},{"t":2.2,"a":-0.08},{"t":2.35,"a":0.04},{"t":2.5,"a":-0.03},{"t":2.65,"a":0.05},{"t":2.8,"a":-0.02},{"t":2.95,"a":0.04},{"t":3.1,"a":-0.05},{"t":3.25,"a":0.03},{"t":3.4,"a":-0.02},{"t":3.55,"a":0.05},{"t":3.7,"a":-0.04},{"t":3.85,"a":0.03},{"t":4.0,"a":-0.03},{"t":4.15,"a":0.04},{"t":4.3,"a":-0.02},{"t":4.45,"a":0.03},{"t":4.6,"a":-0.05},{"t":4.75,"a":0.09},{"t":4.9,"a":-0.08},{"t":5.05,"a":0.06},{"t":5.2,"a":-0.03},{"t":5.35,"a":0.05},{"t":5.5,"a":-0.04},{"t":5.65,"a":0.07},{"t":5.8,"a":-0.02},{"t":5.95,"a":0.05},{"t":6.1,"a":-0.06},{"t":6.25,"a":0.06},{"t":6.4,"a":-0.03},{"t":6.55,"a":0.08},{"t":6.7,"a":-0.08},{"t":6.85,"a":0.05},{"t":7.0,"a":-0.04},{"t":7.15,"a":0.06},{"t":7.3,"a":-0.03},{"t":7.45,"a":0.07},{"t":7.6,"a":-0.05},{"t":7.7,"a":0.14},{"t":7.8,"a":-0.1},{"t":7.95,"a":0.05},{"t":8.1,"a":-0.04},{"t":8.25,"a":0.08},{"t":8.4,"a":-0.05},{"t":8.6,"a":-0.1},{"t":8.75,"a":0.06},{"t":8.9,"a":-0.03},{"t":9.05,"a":0.05},{"t":9.15,"a":0.07},{"t":9.3,"a":-0.06},{"t":9.45,"a":0.05},{"t":9.6,"a":-0.02},
{"t":9.8,"a":-0.16},{"t":9.85,"a":0.02},{"t":9.9,"a":0.05},{"t":9.95,"a":-0.03},{"t":10.0,"a":0.04},{"t":10.05,"a":-0.05},{"t":10.1,"a":0.05},{"t":10.15,"a":-0.03},{"t":10.2,"a":0.1},{"t":10.25,"a":-0.03},{"t":10.3,"a":-0.05},{"t":10.35,"a":0.04},{"t":10.4,"a":0.12},{"t":10.45,"a":-0.05},{"t":10.5,"a":-0.22},{"t":10.55,"a":0.0},{"t":10.6,"a":0.05},{"t":10.66,"a":0.4},{"t":10.7,"a":0.05},{"t":10.75,"a":-0.05},{"t":10.8,"a":-0.2},{"t":10.85,"a":0.02},{"t":10.9,"a":0.2},{"t":10.95,"a":0.02},{"t":11.0,"a":-0.1},{"t":11.06,"a":-0.33},{"t":11.1,"a":0.0},{"t":11.15,"a":0.1},{"t":11.2,"a":0.22},{"t":11.25,"a":0.02},{"t":11.3,"a":-0.2},{"t":11.35,"a":-0.02},{"t":11.4,"a":0.05},{"t":11.45,"a":0.1},{"t":11.5,"a":-0.02},{"t":11.55,"a":-0.05},{"t":11.6,"a":0.04},{"t":11.65,"a":-0.04},{"t":11.7,"a":0.06},{"t":11.75,"a":-0.03},{"t":11.8,"a":0.05},{"t":11.85,"a":-0.06},{"t":11.9,"a":-0.12},{"t":11.95,"a":0.02},{"t":12.0,"a":0.04},{"t":12.05,"a":-0.03},{"t":12.1,"a":0.05},{"t":12.15,"a":-0.05},{"t":12.2,"a":0.03},{"t":12.25,"a":-0.04},{"t":12.3,"a":0.08},{"t":12.35,"a":-0.03},{"t":12.4,"a":0.05},{"t":12.45,"a":-0.06},{"t":12.5,"a":0.04},{"t":12.55,"a":-0.04},{"t":12.6,"a":0.1},{"t":12.65,"a":-0.02},{"t":12.7,"a":0.14},{"t":12.75,"a":-0.02},{"t":12.8,"a":0.05},{"t":12.85,"a":-0.05},{"t":12.9,"a":0.03},{"t":12.95,"a":-0.06},{"t":13.0,"a":-0.14},{"t":13.05,"a":0.0},{"t":13.1,"a":0.04},{"t":13.15,"a":-0.04},{"t":13.2,"a":-0.03},{"t":13.25,"a":0.05},{"t":13.3,"a":0.12},{"t":13.35,"a":-0.02},{"t":13.4,"a":0.04},{"t":13.45,"a":-0.05},{"t":13.5,"a":0.03},{"t":13.55,"a":-0.04},{"t":13.6,"a":0.06},{"t":13.65,"a":-0.03},{"t":13.7,"a":0.04},{"t":13.75,"a":-0.1},{"t":13.8,"a":0.02},{"t":13.85,"a":-0.05},{"t":13.9,"a":-0.22},{"t":13.95,"a":-0.02},{"t":14.0,"a":0.05},{"t":14.05,"a":-0.02},{"t":14.1,"a":0.06},{"t":14.15,"a":-0.06},{"t":14.2,"a":0.05},{"t":14.25,"a":0.1},{"t":14.3,"a":0.18},{"t":14.35,"a":0.02},{"t":14.4,"a":0.05},{"t":14.45,"a":-0.06},{"t":14.5,"a":0.04},{"t":14.55,"a":-0.05},{"t":14.6,"a":0.1},{"t":14.65,"a":-0.02},{"t":14.7,"a":-0.15},{"t":14.75,"a":0.02},{"t":14.8,"a":-0.05},{"t":14.85,"a":0.05},{"t":14.9,"a":-0.02},{"t":14.95,"a":-0.1},{"t":15.0,"a":0.05},{"t":15.05,"a":0.1},{"t":15.1,"a":0.2},{"t":15.15,"a":0.02},{"t":15.2,"a":-0.05},{"t":15.25,"a":0.03},{"t":15.3,"a":0.08},{"t":15.35,"a":0.15},{"t":15.4,"a":0.28},{"t":15.45,"a":0.0},{"t":15.5,"a":-0.4},{"t":15.55,"a":-0.05},{"t":15.6,"a":0.05},{"t":15.65,"a":-0.25},{"t":15.7,"a":-0.05},{"t":15.75,"a":0.1},{"t":15.8,"a":0.02},{"t":15.85,"a":-0.1},{"t":15.9,"a":0.05},{"t":15.95,"a":-0.05},{"t":16.0,"a":-0.2},{"t":16.05,"a":-0.02},{"t":16.1,"a":0.05},{"t":16.15,"a":0.12},{"t":16.2,"a":0.2},{"t":16.25,"a":0.02},{"t":16.3,"a":-0.08},{"t":16.35,"a":0.02},{"t":16.4,"a":-0.05},{"t":16.45,"a":0.12},{"t":16.5,"a":0.02},{"t":16.55,"a":-0.1},{"t":16.6,"a":0.02},{"t":16.65,"a":-0.05},{"t":16.7,"a":0.1},{"t":16.75,"a":0.02},{"t":16.8,"a":0.12},{"t":16.85,"a":0.2},{"t":16.9,"a":0.02},{"t":16.95,"a":-0.05},{"t":17.0,"a":-0.12},{"t":17.05,"a":0.02},{"t":17.1,"a":-0.25},{"t":17.15,"a":-0.05},{"t":17.2,"a":-0.1},{"t":17.25,"a":0.02},{"t":17.3,"a":0.1},{"t":17.35,"a":-0.02},{"t":17.4,"a":-0.08},{"t":17.45,"a":0.05},{"t":17.5,"a":0.18},{"t":17.55,"a":0.02},{"t":17.6,"a":-0.05},
{"t":17.75,"a":0.1},{"t":17.9,"a":-0.08},{"t":18.05,"a":0.1},{"t":18.2,"a":-0.05},{"t":18.35,"a":0.06},{"t":18.5,"a":-0.08},{"t":18.65,"a":0.1},{"t":18.8,"a":-0.03},{"t":19.0,"a":0.15},{"t":19.1,"a":0.0},{"t":19.25,"a":0.1},{"t":19.4,"a":-0.05},{"t":19.55,"a":0.08},{"t":19.7,"a":-0.06},{"t":19.8,"a":-0.12},{"t":19.95,"a":0.05},{"t":20.1,"a":-0.03},{"t":20.25,"a":0.08},{"t":20.4,"a":-0.04},{"t":20.55,"a":0.06},{"t":20.7,"a":-0.08},{"t":20.85,"a":0.05},{"t":21.0,"a":-0.05},{"t":21.15,"a":0.09},{"t":21.3,"a":-0.03},{"t":21.45,"a":0.07},{"t":21.6,"a":-0.06},{"t":21.75,"a":0.05},{"t":21.9,"a":0.12},{"t":22.05,"a":-0.02},{"t":22.2,"a":0.06},{"t":22.35,"a":-0.06},{"t":22.5,"a":0.05},{"t":22.65,"a":-0.03},{"t":22.9,"a":0.15},{"t":23.0,"a":0.0},{"t":23.2,"a":-0.08},{"t":23.35,"a":0.03},{"t":23.5,"a":-0.05},{"t":23.65,"a":0.05},{"t":23.8,"a":-0.04},{"t":23.95,"a":0.06},{"t":24.1,"a":-0.02},{"t":24.25,"a":0.04},{"t":24.4,"a":-0.03},{"t":24.55,"a":0.05},{"t":24.8,"a":0.08},{"t":24.95,"a":0.0},{"t":25.1,"a":0.03},{"t":25.3,"a":-0.02},{"t":25.5,"a":0.02},{"t":25.7,"a":-0.04},{"t":25.9,"a":-0.01},{"t":26.1,"a":0.02},{"t":26.3,"a":-0.01},{"t":26.5,"a":-0.04},{"t":26.7,"a":-0.01},{"t":26.9,"a":0.01},{"t":27.1,"a":0.02},{"t":27.3,"a":0.03},{"t":27.5,"a":0.02},{"t":27.85,"a":0.005},{"t":28.5,"a":0.005},{"t":29.2,"a":0.005},{"t":29.5,"a":-0.01},{"t":29.8,"a":-0.01},{"t":30.1,"a":0.0},{"t":30.4,"a":0.01},{"t":32.0,"a":0.01},{"t":32.2,"a":0.0},{"t":33.8,"a":0.0},{"t":34.0,"a":0.01},{"t":35.2,"a":0.01},{"t":35.4,"a":0.0},{"t":36.4,"a":0.0},{"t":36.6,"a":0.01},{"t":38.6,"a":0.01},{"t":38.8,"a":0.0},{"t":40,"a":0.0}]
},
"columns": 2,
"bounds": "flush",
"align": "each",
"spacing": {"row": 59, "column": 51},
"concat": [
{
 "width": 580, "height": 176,
 "layer": [
  {"data": {"values": [{}]}, "mark": {"type": "text", "font": "Liberation Serif", "fontSize": 30, "align": "center", "baseline": "alphabetic", "color": "black"},
   "encoding": {"x": {"datum": 23.1, "type": "quantitative"}, "y": {"datum": 0.244, "type": "quantitative"}, "text": {"value": "1989 Loma Prieta, Capitola 90 deg., FN"}}},
  {"data": {"values": [{}]}, "mark": {"type": "rule", "color": "#808080", "strokeWidth": 2},
   "encoding": {"x": {"datum": 0, "type": "quantitative"}, "x2": {"datum": 40}, "y": {"datum": 0.4, "type": "quantitative"}}},
  {"data": {"values": [{}]}, "mark": {"type": "rule", "color": "#808080", "strokeWidth": 2},
   "encoding": {"x": {"datum": 40, "type": "quantitative"}, "y": {"datum": -0.4, "type": "quantitative"}, "y2": {"datum": 0.4}}},
  {"data": {"name": "lpfn"}, "mark": {"type": "line", "color": "#000080", "strokeWidth": 2.8},
   "encoding": {
    "x": {"field": "t", "type": "quantitative", "scale": {"domain": [0, 40], "nice": false, "zero": false}, "axis": {"values": [0, 10, 20, 30, 40], "labels": false, "tickSize": 12, "grid": false, "title": null}},
    "y": {"field": "a", "type": "quantitative", "scale": {"domain": [-0.4, 0.4], "nice": false}, "axis": {"values": [-0.4, -0.2, 0, 0.2, 0.4], "labelFont": "Liberation Serif", "labelFontSize": 36, "labelPadding": 19, "tickSize": 13, "labelOffset": 2, "labelExpr": "datum.value == 0 ? '0' : (datum.value < 0 ? '-' : '') + format(abs(datum.value), '.1f')", "grid": true, "gridOpacity": {"condition": {"test": "abs(datum.value) > 0.3", "value": 0}, "value": 1}, "title": null}}
   }}
 ]
},
{
 "width": 580, "height": 176,
 "layer": [
  {"data": {"values": [{}]}, "mark": {"type": "text", "font": "Liberation Serif", "fontSize": 30, "align": "center", "baseline": "alphabetic", "color": "black"},
   "encoding": {"x": {"datum": 23.2, "type": "quantitative"}, "y": {"datum": 0.24, "type": "quantitative"}, "text": {"value": "1989 Loma Prieta, Capitola 90 deg., UD"}}},
  {"data": {"values": [{}]}, "mark": {"type": "rule", "color": "#808080", "strokeWidth": 2},
   "encoding": {"x": {"datum": 0, "type": "quantitative"}, "x2": {"datum": 40}, "y": {"datum": 0.4, "type": "quantitative"}}},
  {"data": {"values": [{}]}, "mark": {"type": "rule", "color": "#808080", "strokeWidth": 2},
   "encoding": {"x": {"datum": 40, "type": "quantitative"}, "y": {"datum": -0.4, "type": "quantitative"}, "y2": {"datum": 0.4}}},
  {"data": {"name": "lpud"}, "mark": {"type": "line", "color": "#000080", "strokeWidth": 2.8},
   "encoding": {
    "x": {"field": "t", "type": "quantitative", "scale": {"domain": [0, 40], "nice": false, "zero": false}, "axis": {"values": [0, 10, 20, 30, 40], "labels": false, "tickSize": 12, "grid": false, "title": null}},
    "y": {"field": "a", "type": "quantitative", "scale": {"domain": [-0.4, 0.4], "nice": false}, "axis": {"values": [-0.4, -0.2, 0, 0.2, 0.4], "labels": false, "tickSize": 13, "grid": true, "gridOpacity": {"condition": {"test": "abs(datum.value) > 0.3", "value": 0}, "value": 1}, "title": null}}
   }}
 ]
},
{
 "width": 580, "height": 190,
 "layer": [
  {"data": {"values": [{}]}, "mark": {"type": "text", "font": "Liberation Serif", "fontSize": 30, "align": "center", "baseline": "alphabetic", "color": "black"},
   "encoding": {"x": {"datum": 23.2, "type": "quantitative"}, "y": {"datum": -0.587, "type": "quantitative"}, "text": {"value": "1979 Imperial Valley, El Centro #3, FN"}}},
  {"data": {"values": [{}]}, "mark": {"type": "rule", "color": "black", "strokeWidth": 3},
   "encoding": {"x": {"datum": 25.07, "type": "quantitative"}, "x2": {"datum": 19.9}, "y": {"datum": -0.456, "type": "quantitative"}, "y2": {"datum": -0.178}}},
  {"data": {"values": [{}]}, "mark": {"type": "point", "shape": "triangle-up", "filled": true, "color": "black", "opacity": 1, "size": 550, "angle": 309},
   "encoding": {"x": {"datum": 19.78, "type": "quantitative"}, "y": {"datum": -0.172, "type": "quantitative"}}},
  {"data": {"values": [{}]}, "mark": {"type": "rule", "color": "#808080", "strokeWidth": 2},
   "encoding": {"x": {"datum": 0, "type": "quantitative"}, "x2": {"datum": 40}, "y": {"datum": 0.4, "type": "quantitative"}}},
  {"data": {"values": [{}]}, "mark": {"type": "rule", "color": "#808080", "strokeWidth": 2},
   "encoding": {"x": {"datum": 40, "type": "quantitative"}, "y": {"datum": -0.4, "type": "quantitative"}, "y2": {"datum": 0.4}}},
  {"data": {"name": "ivfn"}, "mark": {"type": "line", "color": "#000080", "strokeWidth": 2.8},
   "encoding": {
    "x": {"field": "t", "type": "quantitative", "scale": {"domain": [0, 40], "nice": false, "zero": false}, "axis": {"values": [0, 10, 20, 30, 40], "labels": false, "tickSize": 12, "offset": -15, "grid": false, "title": null}},
    "y": {"field": "a", "type": "quantitative", "scale": {"domain": [-0.4, 0.4], "nice": false, "range": [175, 0]}, "axis": {"values": [-0.4, -0.2, 0, 0.2, 0.4], "labelFont": "Liberation Serif", "labelFontSize": 36, "labelPadding": 19, "tickSize": 13, "labelOffset": 2, "labelExpr": "datum.value == 0 ? '0' : (datum.value < 0 ? '-' : '') + format(abs(datum.value), '.1f')", "grid": true, "gridOpacity": {"condition": {"test": "abs(datum.value) > 0.3", "value": 0}, "value": 1}, "title": "Acceleration (g)", "titleFont": "Liberation Serif", "titleFontSize": 33, "titleAngle": 270, "titleAlign": "center", "titleBaseline": "middle", "titleX": -146, "titleY": 120}}
   }}
 ]
},
{
 "width": 580, "height": 190,
 "layer": [
  {"data": {"values": [{}]}, "mark": {"type": "text", "font": "Liberation Serif", "fontSize": 30, "align": "center", "baseline": "alphabetic", "color": "black"},
   "encoding": {"x": {"datum": 22.1, "type": "quantitative"}, "y": {"datum": 0.264, "type": "quantitative"}, "text": {"value": "1979 Imperial Valley, El Centro #3, UD"}}},
  {"data": {"values": [{}]}, "mark": {"type": "rule", "color": "#808080", "strokeWidth": 2},
   "encoding": {"x": {"datum": 0, "type": "quantitative"}, "x2": {"datum": 40}, "y": {"datum": 0.4, "type": "quantitative"}}},
  {"data": {"values": [{}]}, "mark": {"type": "rule", "color": "#808080", "strokeWidth": 2},
   "encoding": {"x": {"datum": 40, "type": "quantitative"}, "y": {"datum": -0.4, "type": "quantitative"}, "y2": {"datum": 0.4}}},
  {"data": {"name": "ivud"}, "mark": {"type": "line", "color": "#000080", "strokeWidth": 2.8},
   "encoding": {
    "x": {"field": "t", "type": "quantitative", "scale": {"domain": [0, 40], "nice": false, "zero": false}, "axis": {"values": [0, 10, 20, 30, 40], "labels": false, "tickSize": 12, "offset": -15, "grid": false, "title": null}},
    "y": {"field": "a", "type": "quantitative", "scale": {"domain": [-0.4, 0.4], "nice": false, "range": [175, 0]}, "axis": {"values": [-0.4, -0.2, 0, 0.2, 0.4], "labels": false, "tickSize": 13, "grid": true, "gridOpacity": {"condition": {"test": "abs(datum.value) > 0.3", "value": 0}, "value": 1}, "title": null}}
   }}
 ]
},
{
 "width": 580, "height": 175,
 "layer": [
  {"data": {"values": [{}]}, "mark": {"type": "text", "font": "Liberation Serif", "fontSize": 29, "align": "center", "baseline": "alphabetic", "color": "black"},
   "encoding": {"x": {"datum": 18.3, "type": "quantitative"}, "y": {"datum": 0.286, "type": "quantitative"}, "text": {"value": "1992 Landers, Yermo 270 deg., FN"}}},
  {"data": {"values": [{}]}, "mark": {"type": "rule", "color": "#808080", "strokeWidth": 2},
   "encoding": {"x": {"datum": 0, "type": "quantitative"}, "x2": {"datum": 40}, "y": {"datum": 0.4, "type": "quantitative"}}},
  {"data": {"values": [{}]}, "mark": {"type": "rule", "color": "#808080", "strokeWidth": 2},
   "encoding": {"x": {"datum": 40, "type": "quantitative"}, "y": {"datum": -0.4, "type": "quantitative"}, "y2": {"datum": 0.4}}},
  {"data": {"name": "ldfn"}, "mark": {"type": "line", "color": "#000080", "strokeWidth": 2.8},
   "encoding": {
    "x": {"field": "t", "type": "quantitative", "scale": {"domain": [0, 40], "nice": false, "zero": false}, "axis": {"values": [0, 10, 20, 30, 40], "tickSize": 12, "labelFont": "Liberation Serif", "labelFontSize": 35, "labelBaseline": "alphabetic", "labelPadding": 62, "grid": false, "title": "Time (sec)", "titleFont": "Liberation Serif", "titleFontSize": 34.5, "titleX": 249, "titleY": 125, "titleBaseline": "alphabetic", "titleAlign": "center"}},
    "y": {"field": "a", "type": "quantitative", "scale": {"domain": [-0.4, 0.4], "nice": false}, "axis": {"values": [-0.4, -0.2, 0, 0.2, 0.4], "labelFont": "Liberation Serif", "labelFontSize": 36, "labelPadding": 19, "tickSize": 13, "labelOffset": 2, "labelExpr": "datum.value == 0 ? '0' : (datum.value < 0 ? '-' : '') + format(abs(datum.value), '.1f')", "grid": true, "gridOpacity": {"condition": {"test": "abs(datum.value) > 0.3", "value": 0}, "value": 1}, "title": null}}
   }}
 ]
},
{
 "width": 580, "height": 175,
 "layer": [
  {"data": {"values": [{}]}, "mark": {"type": "text", "font": "Liberation Serif", "fontSize": 29, "align": "center", "baseline": "alphabetic", "color": "black"},
   "encoding": {"x": {"datum": 25.1, "type": "quantitative"}, "y": {"datum": 0.26, "type": "quantitative"}, "text": {"value": "1992 Landers, Yermo 270 deg., UD"}}},
  {"data": {"values": [{}]}, "mark": {"type": "rule", "color": "#808080", "strokeWidth": 2},
   "encoding": {"x": {"datum": 0, "type": "quantitative"}, "x2": {"datum": 40}, "y": {"datum": 0.4, "type": "quantitative"}}},
  {"data": {"values": [{}]}, "mark": {"type": "rule", "color": "#808080", "strokeWidth": 2},
   "encoding": {"x": {"datum": 40, "type": "quantitative"}, "y": {"datum": -0.4, "type": "quantitative"}, "y2": {"datum": 0.4}}},
  {"data": {"name": "ldud"}, "mark": {"type": "line", "color": "#000080", "strokeWidth": 2.8},
   "encoding": {
    "x": {"field": "t", "type": "quantitative", "scale": {"domain": [0, 40], "nice": false, "zero": false}, "axis": {"values": [0, 10, 20, 30, 40], "tickSize": 12, "labelFont": "Liberation Serif", "labelFontSize": 35, "labelBaseline": "alphabetic", "labelPadding": 62, "grid": false, "title": "Time (sec)", "titleFont": "Liberation Serif", "titleFontSize": 34.5, "titleX": 303, "titleY": 125, "titleBaseline": "alphabetic", "titleAlign": "center"}},
    "y": {"field": "a", "type": "quantitative", "scale": {"domain": [-0.4, 0.4], "nice": false}, "axis": {"values": [-0.4, -0.2, 0, 0.2, 0.4], "labels": false, "tickSize": 13, "grid": true, "gridOpacity": {"condition": {"test": "abs(datum.value) > 0.3", "value": 0}, "value": 1}, "title": null}}
   }}
 ]
}
]
}
